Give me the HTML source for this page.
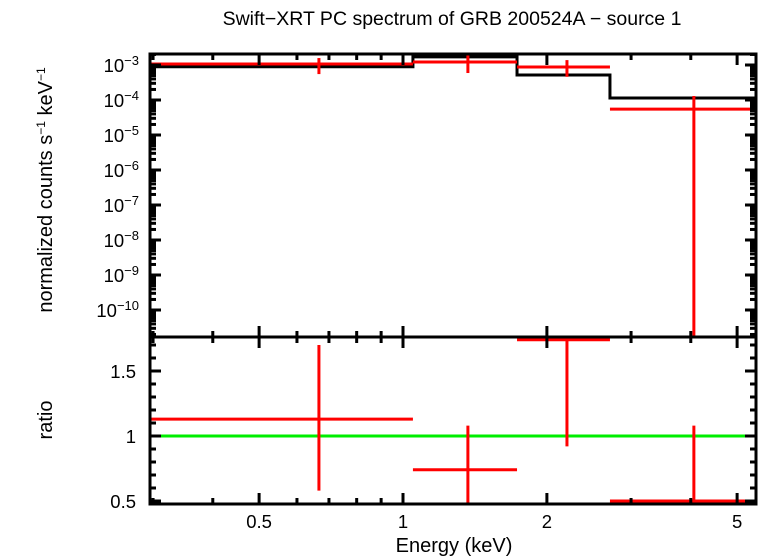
<!DOCTYPE html>
<html><head><meta charset="utf-8"><style>
body{margin:0;background:#fff}
svg{display:block;font-family:"Liberation Sans",sans-serif}
</style></head><body>
<svg id="c" width="760" height="556">
<text x="452" y="25" text-anchor="middle" font-size="19.5">Swift−XRT PC spectrum of GRB 200524A − source 1</text>
<text x="0" y="0" transform="translate(52,190) rotate(-90)" text-anchor="middle" font-size="20">normalized counts s<tspan baseline-shift="super" font-size="12">−1</tspan> keV<tspan baseline-shift="super" font-size="12">−1</tspan></text>
<text x="0" y="0" transform="translate(52,420) rotate(-90)" text-anchor="middle" font-size="20">ratio</text>
<text x="454" y="552" text-anchor="middle" font-size="20">Energy (keV)</text>
<g id="g"></g>
</svg>
<script>
const binLo=[0.296,1.049,1.732,2.71];
const binHi=[1.049,1.732,2.71,5.48];
const binMid=[0.667,1.367,2.203,4.06];
const dataVal=[1.07e-3,1.22e-3,8.8e-4,5.5e-5];
const dataHi=[1.58e-3,1.95e-3,1.38e-3,1.3e-4];
const dataLo=[5.5e-4,5.9e-4,4.6e-4,1e-12];
const modelVal=[8.9e-4,1.7e-3,5.2e-4,1.14e-4];
const ratioVal=[1.13,0.74,1.74,0.5];
const ratioHi=[1.70,1.08,1.78,1.08];
const ratioLo=[0.58,0.45,0.92,0.45];
const xTicks=[0.5,1,2,5];
const yTopTicks=[-3,-4,-5,-6,-7,-8,-9,-10];
const ratioTicks=[0.5,1,1.5];

const L=150,R=756,T1=54,B1=337,T2=337,B2=504;
const xs=e=>403+478*Math.log10(e);
const yt=v=>{let y=65-35*(Math.log10(v)+3);return Math.min(Math.max(y,T1),B1);};
const yr=v=>Math.min(Math.max(436-130*(v-1),T2),B2);
const g=document.getElementById('g');const NS='http://www.w3.org/2000/svg';
function ln(x1,y1,x2,y2,c,w,name){const l=document.createElementNS(NS,'line');
l.setAttribute('x1',x1);l.setAttribute('y1',y1);l.setAttribute('x2',x2);l.setAttribute('y2',y2);
l.setAttribute('stroke',c);l.setAttribute('stroke-width',w);


g.appendChild(l);return l;}
function tx(x,y,s,anchor,name,sup){const t=document.createElementNS(NS,'text');
t.setAttribute('x',x);t.setAttribute('y',y);t.setAttribute('text-anchor',anchor);t.setAttribute('font-size','18.5');
t.textContent=s;
if(sup){const sp=document.createElementNS(NS,'tspan');sp.setAttribute('baseline-shift','super');sp.setAttribute('font-size','13');sp.textContent=sup;t.appendChild(sp);}


g.appendChild(t);}
let d='';binLo.forEach((lo,i)=>{const x1=Math.max(xs(lo),L),x2=Math.min(xs(binHi[i]),R),y=yt(modelVal[i]);d+=(i?'L':'M')+x1+','+y+'L'+x2+','+y;});
const p=document.createElementNS(NS,'path');p.setAttribute('d',d);p.setAttribute('fill','none');p.setAttribute('stroke','#000');p.setAttribute('stroke-width','3');


g.appendChild(p);
binMid.forEach((m,i)=>{const x1=Math.max(xs(binLo[i]),L),x2=Math.min(xs(binHi[i]),R);
ln(x1,yt(dataVal[i]),x2,yt(dataVal[i]),'#f00',3,'data-xerr-'+i);
ln(xs(m),yt(dataHi[i]),xs(m),yt(dataLo[i]),'#f00',3,'data-yerr-'+i);});
ln(L,yr(1),R,yr(1),'#0e0',3,'ratio-unity-line');
binMid.forEach((m,i)=>{const x1=Math.max(xs(binLo[i]),L),x2=Math.min(xs(binHi[i]),R);
ln(x1,yr(ratioVal[i]),x2,yr(ratioVal[i]),'#f00',3,'ratio-xerr-'+i);
ln(xs(m),yr(ratioHi[i]),xs(m),yr(ratioLo[i]),'#f00',3,'ratio-yerr-'+i);});
[[T1,B1,'top-panel-frame'],[T2,B2,'ratio-panel-frame']].forEach(([t,b,n])=>{const r=document.createElementNS(NS,'rect');
r.setAttribute('x',L);r.setAttribute('y',t);r.setAttribute('width',R-L);r.setAttribute('height',b-t);r.setAttribute('fill','none');r.setAttribute('stroke','#000');r.setAttribute('stroke-width','3');


g.appendChild(r);});
for(let e=0.3;e<=5.4;e+=(e<0.95?0.1:1)){const v=Math.round(e*10)/10;const x=xs(v);const maj=xTicks.includes(v);const len=maj?11:6;
[[T1,1],[B1,-1],[T2,1],[B2,-1]].forEach(([y,s])=>ln(x,y,x,y+s*len,'#000',3,'x-tick'));if(v>=1&&v<5)e=v;}
xTicks.forEach(v=>tx(xs(v),528,String(v),'middle','x-tick-label'));
for(let k=-11;k<=-3;k++){for(let m=1;m<10;m++){const y=65-35*(Math.log10(m*Math.pow(10,k))+3);if(y<T1||y>B1)continue;const len=m==1?11:6;
ln(L,y,L+len,y,'#000',3,'y-tick');ln(R,y,R-len,y,'#000',3,'y-tick');}}
yTopTicks.forEach(k=>tx(139,65-35*(k+3)+7,'10','end','y-tick-label',''+(k<0?'−'+(-k):k)));
for(let v=0.5;v<=1.75;v+=0.1){const y=yr(v);const maj=Math.abs(v*2-Math.round(v*2))<1e-6;const len=maj?11:6;ln(L,y,L+len,y,'#000',3,'ratio-tick');ln(R,y,R-len,y,'#000',3,'ratio-tick');}
ratioTicks.forEach(v=>tx(136,yr(v)+7,String(v),'end','ratio-tick-label'));
</script>
</body></html>
